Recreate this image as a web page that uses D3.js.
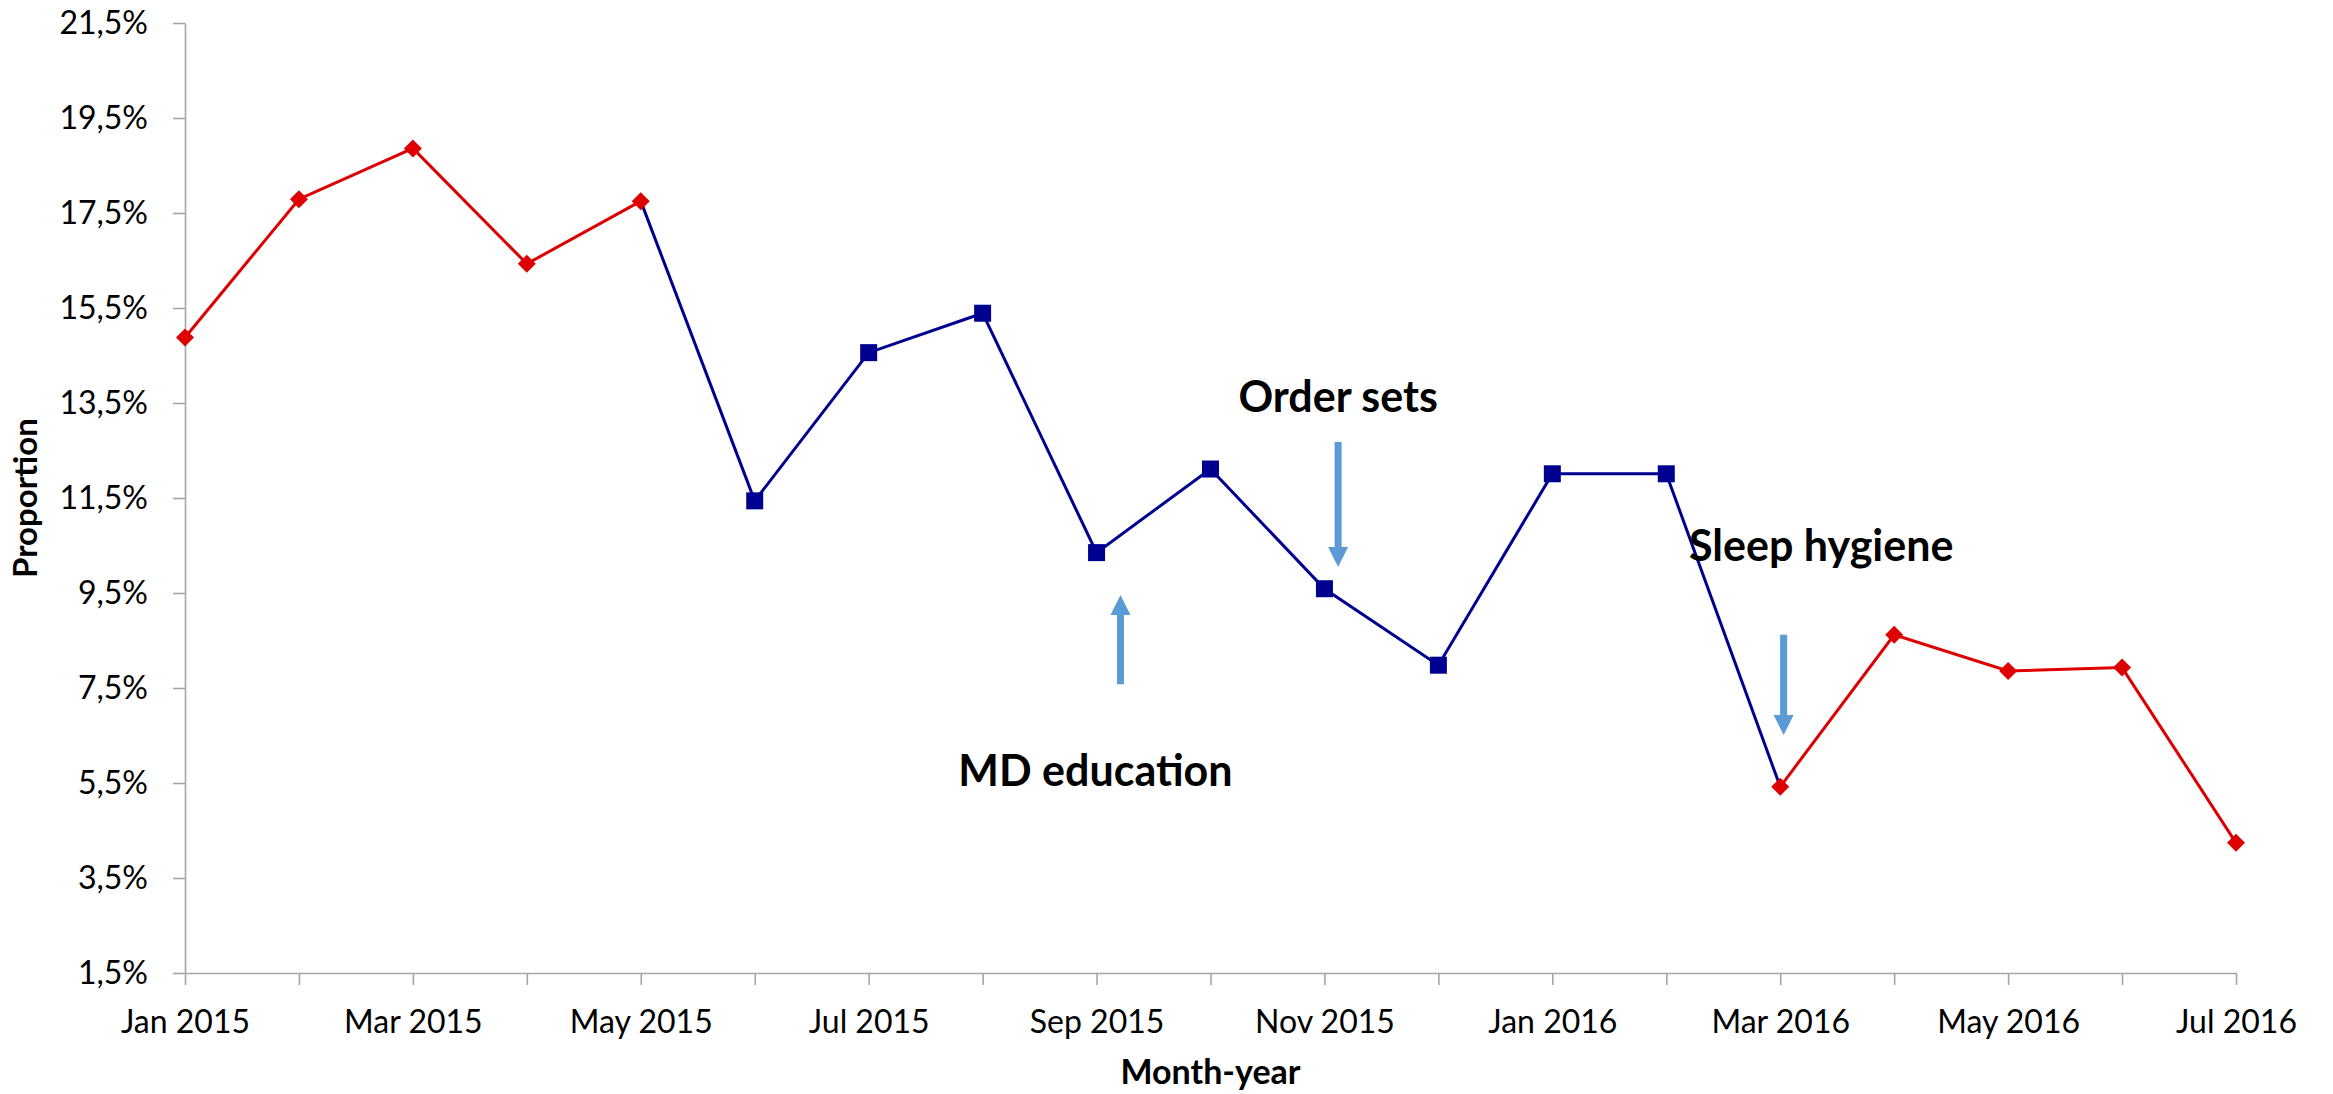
<!DOCTYPE html>
<html>
<head>
<meta charset="utf-8">
<script src="https://cdn.jsdelivr.net/npm/d3@7"></script>
<style>
  html, body { margin: 0; padding: 0; background: #fff; }
  svg { display: block; }
  text { font-family: Lato, "Open Sans", sans-serif; fill: #000; }
</style>
</head>
<body>
<svg id="chart" width="2333" height="1094"></svg>
<script>
// Monthly proportion, Jan 2015 – Jul 2016
const months = ["Jan 2015","Feb 2015","Mar 2015","Apr 2015","May 2015","Jun 2015","Jul 2015",
  "Aug 2015","Sep 2015","Oct 2015","Nov 2015","Dec 2015","Jan 2016","Feb 2016","Mar 2016",
  "Apr 2016","May 2016","Jun 2016","Jul 2016"];
const proportion = [14.88, 17.79, 18.86, 16.43, 17.75, 11.44, 14.56, 15.39, 10.35, 12.11,
  9.59, 7.98, 12.01, 12.01, 5.42, 8.62, 7.86, 7.93, 4.24];
// phase of each month: before, during and after the intervention period
const phase = ["pre","pre","pre","pre","pre","int","int","int","int","int","int","int","int","int",
  "post","post","post","post","post"];
const yTicks = [1.5, 3.5, 5.5, 7.5, 9.5, 11.5, 13.5, 15.5, 17.5, 19.5, 21.5];

// Intervention annotations: label, arrow month position (fractional index), arrow tail/tip and label baseline in %
const notes = [
  { label: "MD education", at: 8.21, tail: 7.58, tip: 9.46, textAt: 7.99, textY: 5.44 },
  { label: "Order sets",   at: 10.12, tail: 12.68, tip: 10.05, textAt: 10.12, textY: 13.31 },
  { label: "Sleep hygiene", at: 14.03, tail: 8.62, tip: 6.51, textAt: 14.36, textY: 10.17 }
];

const RED = "#DE0000", BLUE = "#000090", ARROW = "#5B9BD5", AXIS = "#A6A6A6";

const svg = d3.select("#chart");
const x = d3.scaleLinear().domain([0, months.length - 1]).range([185, 2236]);
const y = d3.scaleLinear().domain([1.5, 21.5]).range([973, 23]);

// y axis
const yAxis = svg.append("g").attr("transform", `translate(${x(0)},0)`)
  .call(d3.axisLeft(y).tickValues(yTicks).tickSize(12).tickSizeOuter(0).tickPadding(25)
    .tickFormat(d => d3.format(".1f")(d).replace(".", ",") + "%"));
yAxis.selectAll("path, line").attr("stroke", AXIS).attr("stroke-width", 1.6);
yAxis.selectAll("text").attr("font-size", 32).style("font-family", "Lato");

// x axis
const xAxis = svg.append("g").attr("transform", `translate(0,${y(1.5)})`)
  .call(d3.axisBottom(x).tickValues(d3.range(months.length)).tickSize(12).tickSizeOuter(0)
    .tickFormat(i => i % 2 === 0 ? months[i] : ""));
xAxis.selectAll("path, line").attr("stroke", AXIS).attr("stroke-width", 1.6);
xAxis.selectAll("text").attr("font-size", 32).attr("y", 60).attr("dy", 0).style("font-family", "Lato");

// axis titles
svg.append("text").attr("x", x(9)).attr("y", 1084).attr("text-anchor", "middle")
  .attr("font-size", 34).attr("font-weight", 700).text("Month-year");
svg.append("text").attr("transform", `translate(37,${y(11.5)}) rotate(-90)`)
  .attr("text-anchor", "middle").attr("font-size", 33).attr("font-weight", 700).text("Proportion");

const pts = proportion.map((v, i) => ({ i, v, phase: phase[i] }));
const line = d3.line().x(d => x(d.i)).y(d => y(d.v));

// intervention line spans from the last "pre" point to the first "post" point
const firstInt = phase.indexOf("int"), lastInt = phase.lastIndexOf("int");
svg.append("path").datum(pts.slice(firstInt - 1, lastInt + 2)).attr("d", line)
  .attr("fill", "none").attr("stroke", BLUE).attr("stroke-width", 3);
svg.append("path").datum(pts.filter(d => d.phase === "pre")).attr("d", line)
  .attr("fill", "none").attr("stroke", RED).attr("stroke-width", 3);
svg.append("path").datum(pts.filter(d => d.phase === "post")).attr("d", line)
  .attr("fill", "none").attr("stroke", RED).attr("stroke-width", 3);

// markers
const sq = 17;
svg.selectAll("rect.m").data(pts.filter(d => d.phase === "int")).join("rect").attr("class", "m")
  .attr("x", d => x(d.i) - sq / 2).attr("y", d => y(d.v) - sq / 2).attr("width", sq).attr("height", sq)
  .attr("fill", BLUE);
const dia = 9;
svg.selectAll("path.m").data(pts.filter(d => d.phase !== "int")).join("path").attr("class", "m")
  .attr("d", d => { const cx = x(d.i), cy = y(d.v);
    return `M${cx},${cy - dia}L${cx + dia},${cy}L${cx},${cy + dia}L${cx - dia},${cy}Z`; })
  .attr("fill", RED);

// annotation arrows and labels
notes.forEach(n => {
  const ax = x(n.at), y0 = y(n.tail), y1 = y(n.tip);
  const dir = y1 > y0 ? 1 : -1;   // +1 pointing down
  const headLen = 20, headHalf = 10, shaftHalf = 3.5;
  const yb = y1 - dir * headLen;
  svg.append("path")
    .attr("d", `M${ax - shaftHalf},${y0}L${ax + shaftHalf},${y0}L${ax + shaftHalf},${yb}` +
      `L${ax + headHalf},${yb}L${ax},${y1}L${ax - headHalf},${yb}L${ax - shaftHalf},${yb}Z`)
    .attr("fill", ARROW);
  svg.append("text").attr("x", x(n.textAt)).attr("y", y(n.textY)).attr("text-anchor", "middle")
    .attr("font-size", 43).attr("font-weight", 700).text(n.label);
});
</script>
</body>
</html>
